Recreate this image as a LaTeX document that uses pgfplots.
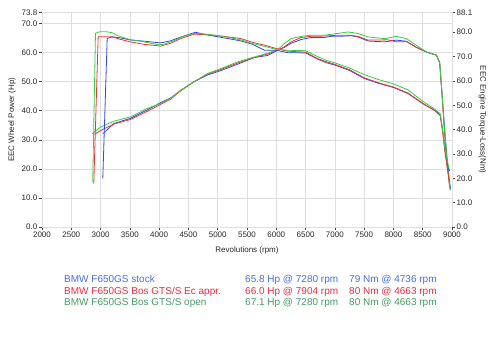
\documentclass[border=0pt]{standalone}
\usepackage{pgfplots}
\pgfplotsset{compat=1.18}
\usepackage{fontspec}
\setmainfont{Liberation Sans}
\definecolor{lblue}{RGB}{50,70,230}
\definecolor{lred}{RGB}{240,50,50}
\definecolor{lgreen}{RGB}{50,210,60}
\definecolor{tblue}{RGB}{70,110,235}
\definecolor{tred}{RGB}{235,45,60}
\definecolor{tgreen}{RGB}{70,155,100}
\definecolor{gridc}{RGB}{222,222,222}
\begin{document}
\begin{tikzpicture}
\useasboundingbox (0,0) rectangle (500bp,347bp);
\pgfplotsset{
  base/.style={
    scale only axis, width=410bp, height=214.5bp,
    at={(42bp,120bp)}, anchor=south west,
    xmin=2000, xmax=9000,
    /pgf/number format/assume math mode=true,
    tick align=outside, major tick length=3bp,
    tick style={draw=black!75, line width=0.6bp},
    ticklabel style={font=\fontsize{8bp}{9bp}\selectfont, text=black!85},
    label style={font=\fontsize{8bp}{9bp}\selectfont, text=black!85},
    every axis plot/.append style={line width=0.8bp, mark=none},
  }
}
% Power axis (left)
\begin{axis}[base,
  ymin=0, ymax=73.8,
  xtick={2000,2500,...,9000},
  ytick={0,10,20,30,40,50,60,70,73.8},
  yticklabel style={/pgf/number format/fixed, /pgf/number format/fixed zerofill, /pgf/number format/precision=1, inner sep=1.5bp},
  xticklabel style={/pgf/number format/1000 sep={}, inner sep=1.5bp},
  xtick pos=bottom, ytick pos=left,
  grid=major, grid style={draw=gridc, line width=0.6bp},
  axis line style={draw=gridc},
  xlabel={Revolutions (rpm)},
  xlabel style={at={(axis description cs:0.5,-0.108)}, anchor=center},
  ylabel={EEC Wheel Power (Hp)},
  ylabel style={at={(axis description cs:-0.073,0.5)}, anchor=center},
]
% blue power
\addplot[lblue] coordinates {
(3038,32.1)(3100,33.2)(3226,35.6)(3512,37.4)(3797,40.3)(4026,42.8)(4197,44.4)(4368,47.0)(4596,50.0)(4825,52.3)(5053,53.8)(5338,56.0)(5624,58.3)(5850,59.0)(6024,60.8)(6137,61.8)(6252,63.2)(6423,64.5)(6594,65.2)(6822,65.2)(6936,65.6)(7051,65.6)(7280,65.8)(7394,65.4)(7565,64.0)(7851,63.7)(8051,64.3)(8222,63.9)(8394,61.8)(8565,60.2)(8736,59.1)(8790,56.5)(8830,46)(8870,35)(8910,25)(8950,17)(8975,13)
};
% red power
\addplot[lred] coordinates {
(2896,31.9)(3000,33.2)(3226,35.4)(3512,37.0)(3797,39.8)(4026,42.2)(4197,44.0)(4368,46.9)(4596,50.0)(4825,52.6)(5053,54.2)(5338,56.4)(5624,58.3)(5850,59.5)(6024,60.8)(6137,62.0)(6252,63.7)(6423,65.2)(6594,65.6)(6822,65.7)(7051,66.0)(7222,66.0)(7394,65.6)(7565,64.3)(7904,64.4)(8051,63.7)(8222,63.8)(8394,61.8)(8565,60.2)(8736,59.1)(8790,56.5)(8830,45)(8870,33)(8910,23)(8950,15)(8970,12.6)
};
% green power
\addplot[lgreen] coordinates {
(2856,32.1)(3000,34.4)(3226,36.4)(3512,37.9)(3797,40.8)(4026,42.5)(4197,44.2)(4368,47.1)(4596,49.9)(4825,52.8)(5053,54.5)(5338,56.8)(5624,58.5)(5850,59.8)(6024,61.0)(6137,63.1)(6252,64.8)(6423,65.6)(6594,66.0)(6822,66.0)(7051,66.6)(7222,67.1)(7394,66.6)(7565,65.4)(7851,64.8)(8051,65.6)(8222,64.8)(8394,62.5)(8565,60.2)(8736,59.1)(8790,56.5)(8830,46)(8870,34)(8910,24)(8950,16)(8970,13)
};
\end{axis}
% Torque axis (right)
\begin{axis}[base,
  ymin=0, ymax=88.1,
  axis x line=none,
  axis y line*=right,
  ytick pos=right,
  axis line style={draw=gridc},
  ytick={0,10,20,30,40,50,60,70,80,88.1},
  yticklabel style={/pgf/number format/fixed, /pgf/number format/fixed zerofill, /pgf/number format/precision=1, inner sep=1.5bp},
  ylabel={EEC Engine Torque-Loss(Nm)},
  ylabel style={at={(axis description cs:1.0744,0.5)}, anchor=center, rotate=180},
]
% blue torque
\addplot[lblue] coordinates {
(3038,19.9)(3113,77.4)(3200,78.1)(3350,77.6)(3512,76.8)(3750,76.3)(4026,75.6)(4200,76.5)(4368,78.0)(4620,80.0)(4800,79.0)(4938,78.4)(5200,77.3)(5400,76.4)(5600,75.0)(5800,72.6)(6000,72.6)(6200,71.6)(6500,71.5)(6700,69.0)(6850,67.5)(7000,66.5)(7250,64.3)(7500,61.0)(7750,59.0)(8000,57.3)(8250,54.8)(8500,50.7)(8700,47.9)(8800,45.8)(8850,38)(8890,30)(8930,25)(8960,23)
};
% red torque
\addplot[lred] coordinates {
(2884,17.8)(2959,78.1)(3200,78.1)(3350,77.0)(3512,76.0)(3750,75.0)(4026,74.3)(4200,75.5)(4368,77.4)(4600,79.2)(4938,78.8)(5200,78.0)(5395,77.4)(5600,75.8)(5800,74.7)(6000,73.3)(6200,72.2)(6500,71.8)(6700,69.2)(6850,67.9)(7000,66.8)(7250,64.6)(7500,61.3)(7750,59.2)(8000,57.5)(8250,55.0)(8500,50.8)(8700,48.0)(8800,46.0)(8845,38)(8880,30.5)(8920,24)(8960,18.5)
};
% green torque
\addplot[lgreen] coordinates {
(2866,18.5)(2913,79.5)(2950,80.0)(3000,80.2)(3100,80.2)(3200,79.8)(3300,78.5)(3500,77.0)(3750,76.0)(4000,74.8)(4100,75.2)(4250,76.5)(4400,78.2)(4600,79.5)(4800,79.2)(5000,78.6)(5200,77.8)(5400,76.8)(5600,75.3)(5800,74.2)(6000,72.9)(6200,72.6)(6500,72.4)(6700,70.0)(6850,68.5)(7000,67.4)(7250,65.3)(7500,62.6)(7750,60.5)(8000,58.8)(8250,56.3)(8500,51.6)(8700,48.5)(8800,46.5)(8840,40)(8880,32)(8920,27)(8950,24)
};
\end{axis}
% legend text
\begin{scope}[every node/.style={anchor=base west, inner sep=0pt, font=\fontsize{10bp}{12bp}\selectfont}]
\node[text=tblue]  at (64bp,64.4bp) {BMW F650GS stock};
\node[text=tred]   at (64bp,52.7bp) {BMW F650GS Bos GTS/S Ec appr.};
\node[text=tgreen] at (64bp,41.1bp) {BMW F650GS Bos GTS/S open};
\node[text=tblue]  at (245bp,64.4bp) {65.8 Hp @ 7280 rpm};
\node[text=tred]   at (245bp,52.7bp) {66.0 Hp @ 7904 rpm};
\node[text=tgreen] at (245bp,41.1bp) {67.1 Hp @ 7280 rpm};
\node[text=tblue]  at (349bp,64.4bp) {79 Nm @ 4736 rpm};
\node[text=tred]   at (349bp,52.7bp) {80 Nm @ 4663 rpm};
\node[text=tgreen] at (349bp,41.1bp) {80 Nm @ 4663 rpm};
\end{scope}
\end{tikzpicture}
\end{document}
